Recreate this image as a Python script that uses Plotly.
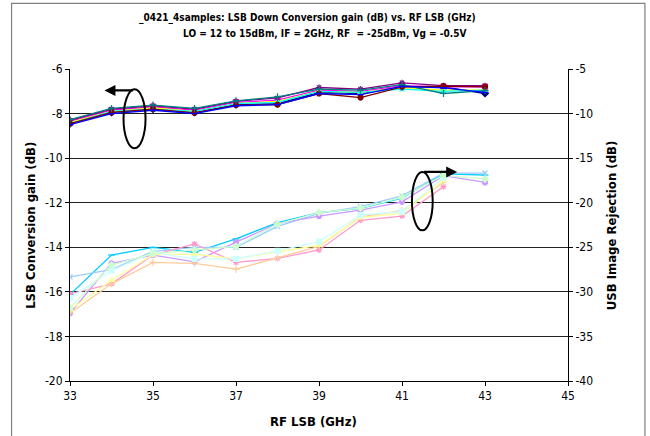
import plotly.graph_objects as go

freq = [33, 34, 35, 36, 37, 38, 39, 40, 41, 42, 43]

# LSB conversion gain (dB) - left axis
gain_navy = [-8.45, -7.95, -7.8, -7.95, -7.6, -7.55, -7.05, -7.1, -6.8, -6.8, -7.1]
gain_magenta = [-8.35, -7.85, -7.7, -7.85, -7.5, -7.4, -6.95, -7.0, -6.75, -6.8, -6.8]
gain_yellow = [-8.4, -7.9, -7.75, -7.9, -7.55, -7.45, -7.0, -7.05, -6.85, -6.95, -6.95]
gain_cyan = [-8.45, -7.9, -7.8, -7.9, -7.55, -7.5, -7.0, -7.05, -6.9, -7.0, -6.95]
gain_purple = [-8.3, -7.8, -7.65, -7.8, -7.45, -7.3, -6.83, -6.9, -6.62, -6.75, -6.75]
gain_maroon = [-8.45, -7.95, -7.8, -7.97, -7.62, -7.6, -7.1, -7.28, -6.8, -6.77, -6.8]
gain_teal = [-8.27, -7.77, -7.62, -7.77, -7.43, -7.25, -6.9, -6.95, -6.7, -7.1, -6.97]
gain_blue = [-8.5, -8.0, -7.85, -8.0, -7.65, -7.6, -7.1, -7.15, -6.78, -6.85, -7.05]

# USB image rejection (dB) - right axis
ir_skyblue = [-30.3, -25.87, -25.0, -25.57, -24.05, -22.23, -21.1, -20.64, -19.5, -16.75, -16.9]
ir_lightblue = [-28.33, -27.5, -25.45, -25.0, -25.0, -22.65, -21.2, -20.45, -19.24, -16.67, -16.67]
ir_lavender = [-32.4, -26.8, -25.87, -26.63, -24.43, -22.35, -21.5, -20.83, -19.9, -16.97, -17.73]
ir_pink = [-30.23, -29.1, -25.87, -24.62, -26.7, -26.25, -25.3, -21.97, -21.5, -18.2, None]
ir_peach = [-32.4, -29.1, -26.7, -26.8, -27.46, -26.2, -24.9, -21.6, -20.9, -17.7, None]
ir_yellow = [-32.0, -28.7, -25.83, -25.76, -26.3, -25.5, -24.8, -21.67, -21.2, -17.5, None]
ir_turq = [-30.7, -27.6, -25.6, -26.3, -26.3, -25.4, -24.36, -21.4, -21.0, -17.2, None]
ir_green = [-31.8, -27.0, -25.7, -25.3, -24.9, -22.4, -21.1, -20.6, -19.4, -16.9, -17.35]

x_ticks = [33, 35, 37, 39, 41, 43, 45]
left_ticks = [-20, -18, -16, -14, -12, -10, -8, -6]
left_labels = ["-20", "-18", "-16", "-14", "-12", "-10", "-8", "-6"]
right_ticks = [-40, -35, -30, -25, -20, -15, -10, -5]
right_labels = ["-40", "-35", "-30", "-25", "-20", "-15", "-10", "-5"]

FONT = "DejaVu Sans Condensed, Liberation Sans Narrow, sans-serif"

fig = go.Figure()

gain_series = [
    ("Gain 1", gain_navy, "#000080", "diamond"),
    ("Gain 2", gain_magenta, "#FF00FF", "square"),
    ("Gain 3", gain_yellow, "#FFFF00", "triangle-up"),
    ("Gain 4", gain_cyan, "#00FFFF", "x-thin-open"),
    ("Gain 5", gain_purple, "#800080", "asterisk-open"),
    ("Gain 6", gain_maroon, "#800000", "circle"),
    ("Gain 7", gain_teal, "#008080", "cross-thin-open"),
    ("Gain 8", gain_blue, "#0000FF", "line-ew-open"),
]
for name, vals, col, sym in gain_series:
    fig.add_trace(go.Scatter(x=freq, y=vals, name=name, mode="lines+markers",
                             line=dict(color=col, width=1.3),
                             marker=dict(symbol=sym, size=5, color=col,
                                         line=dict(color=col, width=1.2)),
                             yaxis="y"))

ir_series = [
    ("IR 1", ir_skyblue, "#00CCFF", "line-ew-open"),
    ("IR 2", ir_lightblue, "#99CCFF", "x-thin-open"),
    ("IR 3", ir_lavender, "#CC99FF", "circle"),
    ("IR 4", ir_pink, "#FF99CC", "asterisk-open"),
    ("IR 5", ir_peach, "#FFCC99", "cross-thin-open"),
    ("IR 6", ir_yellow, "#FFFF99", "triangle-up"),
    ("IR 7", ir_turq, "#CCFFFF", "square"),
    ("IR 8", ir_green, "#CCFFCC", "diamond"),
]
for name, vals, col, sym in ir_series:
    fig.add_trace(go.Scatter(x=freq, y=vals, name=name, mode="lines+markers",
                             line=dict(color=col, width=1.3),
                             marker=dict(symbol=sym, size=5, color=col,
                                         line=dict(color=col, width=1.2)),
                             yaxis="y2", connectgaps=False))

W, H = 650, 436
L, R, T, B = 69.5, 82, 68.7, 55.3
pw = W - L - R
ph = H - T - B

def px(x):
    return (x - L) / pw

def py(y):
    return (H - B - y) / ph

fig.update_layout(
    width=W, height=H,
    margin=dict(l=L, r=R, t=T, b=B),
    plot_bgcolor="white", paper_bgcolor="white",
    showlegend=False,
    font=dict(family=FONT, size=12, color="black"),
    xaxis=dict(range=[33, 45], tickvals=x_ticks, ticks="outside", ticklen=4,
               tickcolor="black", showline=True, linecolor="black", linewidth=1,
               showgrid=False, zeroline=False, tickfont=dict(size=12),
               mirror=False),
    yaxis=dict(range=[-20, -6], tickvals=left_ticks, ticktext=left_labels,
               ticks="outside", ticklen=4,
               tickcolor="black", showline=True, linecolor="black", linewidth=1,
               showgrid=True, gridcolor="#222222", gridwidth=1, zeroline=False,
               tickfont=dict(size=12)),
    yaxis2=dict(range=[-40, -5], tickvals=right_ticks, ticktext=right_labels,
                ticks="outside", ticklen=4,
                tickcolor="black", showline=True, linecolor="black", linewidth=1,
                showgrid=False, zeroline=False, overlaying="y", side="right",
                tickfont=dict(size=12)),
)

# outer chart border
fig.add_shape(type="rect", xref="paper", yref="paper",
              x0=px(11), x1=px(645), y0=py(445), y1=py(3),
              line=dict(color="#808080", width=1.2), layer="below")

annotations = [
    dict(text="<b>_0421_4samples: LSB Down Conversion gain (dB) vs. RF LSB (GHz)</b>",
         x=px(307), y=py(18), font=dict(size=10)),
    dict(text="<b>LO = 12 to 15dBm, IF = 2GHz, RF  = -25dBm, Vg = -0.5V</b>",
         x=px(324), y=py(33), font=dict(size=10)),
    dict(text="<b>LSB Conversion gain (dB)</b>", x=px(30), y=py(225),
         textangle=-90, font=dict(size=13)),
    dict(text="<b>USB Image Rejection (dB)</b>", x=px(611), y=py(225),
         textangle=-90, font=dict(size=13)),
    dict(text="<b>RF LSB (GHz)</b>", x=px(313), y=py(421), font=dict(size=13)),
]
for a in annotations:
    fig.add_annotation(xref="paper", yref="paper", showarrow=False,
                       xanchor="center", yanchor="middle", **a)

# ellipses
fig.add_shape(type="circle", xref="x", yref="y", x0=34.29, x1=34.82, y0=-9.56, y1=-6.91,
              line=dict(color="black", width=2))
fig.add_shape(type="circle", xref="x", yref="y", x0=41.24, x1=41.74, y0=-13.24, y1=-10.62,
              line=dict(color="black", width=2))

# arrows
fig.add_annotation(x=33.83, y=-6.96, ax=34.55, ay=-6.96, xref="x", yref="y",
                   axref="x", ayref="y", showarrow=True, arrowhead=2, arrowsize=1,
                   arrowwidth=2.2, arrowcolor="black", text="")
fig.add_annotation(x=42.33, y=-10.62, ax=41.49, ay=-10.62, xref="x", yref="y",
                   axref="x", ayref="y", showarrow=True, arrowhead=2, arrowsize=1,
                   arrowwidth=2.2, arrowcolor="black", text="")

fig.write_html("out.html", config={"displayModeBar": False},
               post_script="document.body.style.margin='0';document.body.style.overflow='hidden';")
